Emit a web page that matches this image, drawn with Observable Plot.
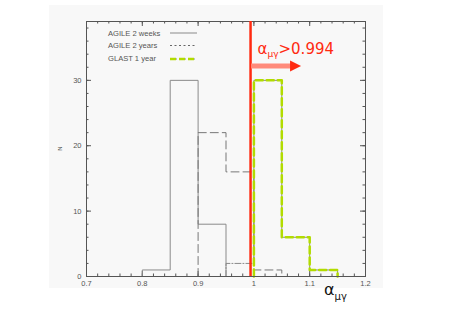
<!DOCTYPE html>
<html><head><meta charset="utf-8">
<script src="https://cdn.jsdelivr.net/npm/d3@7"></script>
<script src="https://cdn.jsdelivr.net/npm/@observablehq/plot@0.6"></script>
<style>body{margin:0;background:#fff}</style>
</head><body><div id="chart"></div>
<script>
// ---- data ----
const binWidth = 0.05;
const weeksStart = 0.80;  const weeksCounts = [1, 30, 8];       // AGILE 2 weeks
const yearsStart = 0.90;  const yearsCounts = [22, 16, 1];      // AGILE 2 years
const glastStart = 0.95;  const glastCounts = [2, 30, 6, 1];    // GLAST 1 year
const threshold = 0.994;
const xMajor = [0.7, 0.8, 0.9, 1.0, 1.1, 1.2];
const yMajor = [0, 10, 20, 30];
const legendLabels = ["AGILE 2 weeks", "AGILE 2 years", "GLAST 1 year"];
const xDomain = [0.7, 1.2];
const yDomain = [0, 39];

// ---- helpers ----
function outline(start, counts) {
  const pts = [{x: start, y: 0}];
  counts.forEach((c, i) => pts.push({x: +(start + i * binWidth).toFixed(3), y: c}));
  pts.push({x: +(start + counts.length * binWidth).toFixed(3), y: 0});
  return pts;
}
const weeks = outline(weeksStart, weeksCounts);
const years = outline(yearsStart, yearsCounts);
const glast = outline(glastStart, glastCounts);
const glastGreen = outline(glastStart + binWidth, glastCounts.slice(1));

const xMinor = d3.range(0, 26).map(i => +(0.7 + i * 0.02).toFixed(2));
const yMinor = d3.range(0, 20).map(i => i * 2);

const W = 457, H = 316;
const mL = 86, mR = 92, mT = 21, mB = 40;
const innerW = W - mL - mR, innerH = H - mT - mB;

const GRAY = "#8a8a8a";
const AXIS = "#555";
const RED = "#ff2a10";
const GREEN = "#b2dc00";

function background(index, scales, values, dim) {
  const g = d3.create("svg:g");
  g.append("rect").attr("x", 49).attr("y", 5).attr("width", 334).attr("height", 283).attr("fill", "#f8f8f8");
  return g.node();
}

function annotations(index, scales, values, dim) {
  const g = d3.create("svg:g").attr("text-anchor", "start");
  const xt = scales.x(threshold);
  // threshold label
  const t = g.append("text").attr("x", xt + 7.5).attr("y", dim.marginTop + 33)
    .attr("fill", RED).attr("font-family", "DejaVu Sans").attr("font-size", 15);
  t.append("tspan").text("α");
  t.append("tspan").attr("font-size", 9).attr("dy", 3).text("μγ");
  t.append("tspan").attr("dy", -3).text(">" + threshold);
  // arrow
  const ay = dim.marginTop + 45;
  g.append("line").attr("x1", xt + 1).attr("x2", xt + 42).attr("y1", ay).attr("y2", ay)
    .attr("stroke", "#ff8a7a").attr("stroke-width", 5);
  g.append("path").attr("d", `M${xt + 40},${ay - 5.5}L${xt + 51},${ay}L${xt + 40},${ay + 5.5}Z`).attr("fill", RED);
  // x-axis title
  const xtTitle = g.append("text").attr("x", dim.width - dim.marginRight - 41).attr("y", dim.height - dim.marginBottom + 19)
    .attr("fill", "#111").attr("font-family", "DejaVu Sans").attr("font-size", 16);
  xtTitle.append("tspan").text("α");
  xtTitle.append("tspan").attr("font-size", 10).attr("dy", 5).text("μγ");
  // y label
  g.append("text").attr("transform", `translate(${dim.marginLeft - 24},${dim.marginTop + innerH / 2}) rotate(-90)`)
    .attr("text-anchor", "middle").attr("font-family", "Liberation Sans").attr("font-size", 6).attr("fill", "#444").text("N");
  // legend
  const lx = dim.marginLeft + 22, l1 = dim.marginLeft + 84, l2 = dim.marginLeft + 111;
  const ly = [dim.marginTop + 12, dim.marginTop + 24.5, dim.marginTop + 37];
  legendLabels.forEach((s, i) => {
    g.append("text").attr("x", lx).attr("y", ly[i]).attr("dy", "0.35em")
      .attr("font-family", "Liberation Sans").attr("font-size", 7.6).attr("fill", "#555").text(s);
  });
  g.append("line").attr("x1", l1).attr("x2", l2).attr("y1", ly[0]).attr("y2", ly[0]).attr("stroke", GRAY);
  g.append("line").attr("x1", l1).attr("x2", l2).attr("y1", ly[1]).attr("y2", ly[1]).attr("stroke", "#666").attr("stroke-dasharray", "2,2.5");
  g.append("line").attr("x1", l1).attr("x2", l2).attr("y1", ly[2] + 1).attr("y2", ly[2] + 1).attr("stroke", GRAY).attr("stroke-dasharray", "1,2");
  g.append("line").attr("x1", l1).attr("x2", l2).attr("y1", ly[2] + 1).attr("y2", ly[2] + 1).attr("stroke", GREEN).attr("stroke-width", 2.5).attr("stroke-dasharray", "6,3");
  return g.node();
}

const chart = Plot.plot({
  width: W, height: H,
  marginLeft: mL, marginRight: mR, marginTop: mT, marginBottom: mB,
  style: {background: "transparent", fontFamily: "Liberation Sans", fontSize: "7.5px", color: AXIS},
  x: {domain: xDomain},
  y: {domain: yDomain},
  marks: [
    background,
    // inward ticks on all four sides
    Plot.tickX(xMinor, {x: d => d, insetTop: innerH - 2.5, stroke: AXIS}),
    Plot.tickX(xMinor, {x: d => d, insetBottom: innerH - 2.5, stroke: AXIS}),
    Plot.tickX(xMajor, {x: d => d, insetTop: innerH - 5, stroke: AXIS}),
    Plot.tickX(xMajor, {x: d => d, insetBottom: innerH - 5, stroke: AXIS}),
    Plot.tickY(yMinor, {y: d => d, insetRight: innerW - 2.5, stroke: AXIS}),
    Plot.tickY(yMinor, {y: d => d, insetLeft: innerW - 2.5, stroke: AXIS}),
    Plot.tickY(yMajor, {y: d => d, insetRight: innerW - 5, stroke: AXIS}),
    Plot.tickY(yMajor, {y: d => d, insetLeft: innerW - 5, stroke: AXIS}),
    Plot.axisX(xMajor, {tickSize: 0, tickPadding: 4, tickFormat: d => String(+d.toFixed(2)), label: null, fill: "#555"}),
    Plot.axisY(yMajor, {tickSize: 0, tickPadding: 5, label: null, fill: "#555"}),
    // histograms
    Plot.line(weeks, {x: "x", y: "y", curve: "step-after", stroke: GRAY, strokeWidth: 1}),
    Plot.line(years, {x: "x", y: "y", curve: "step-after", stroke: "#777", strokeWidth: 1, strokeDasharray: "8,4"}),
    Plot.line(glast, {x: "x", y: "y", curve: "step-after", stroke: GRAY, strokeWidth: 1, strokeDasharray: "6,2,1,2"}),
    Plot.line(glastGreen, {x: "x", y: "y", curve: "step-after", stroke: GREEN, strokeWidth: 2.5, strokeDasharray: "7,4"}),
    Plot.frame({stroke: AXIS}),
    Plot.ruleX([threshold], {stroke: RED, strokeWidth: 2.5}),
    annotations
  ]
});
document.getElementById("chart").append(chart);
</script>
</body></html>
